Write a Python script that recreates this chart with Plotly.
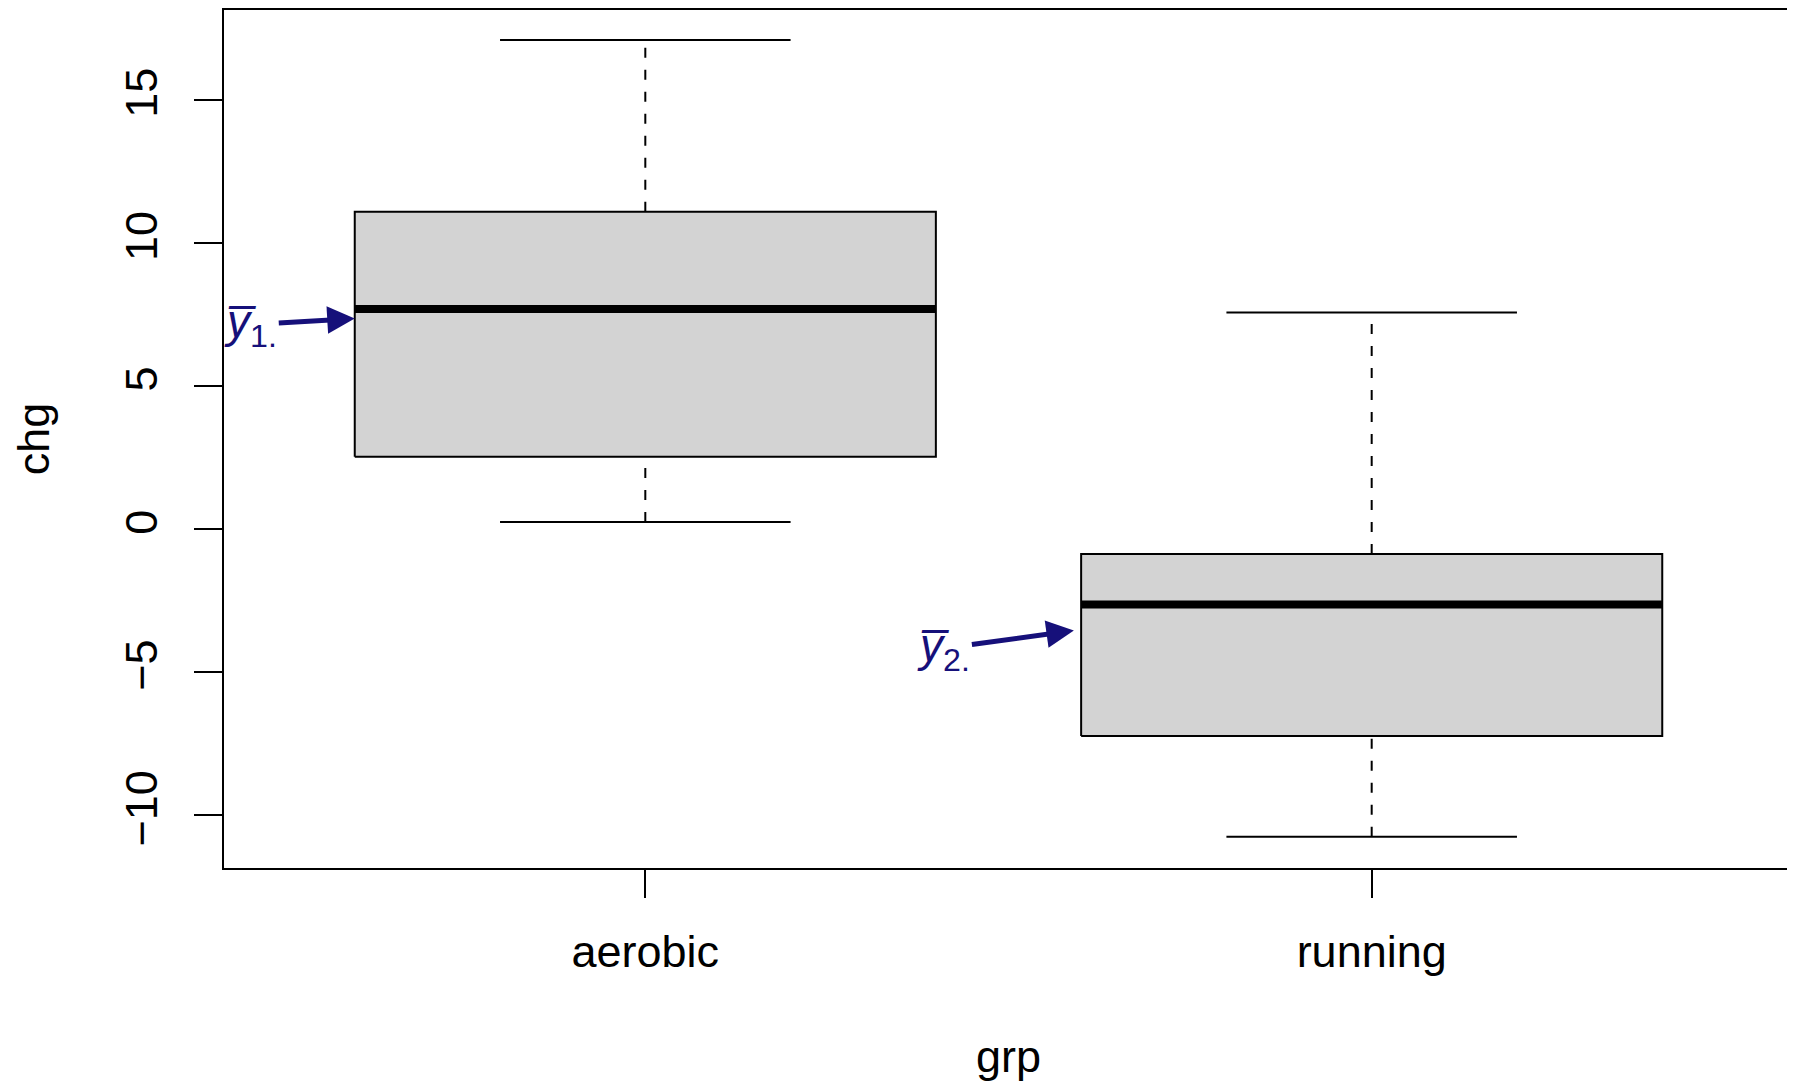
import plotly.graph_objects as go

groups = ["aerobic", "running"]
lower_whisker = [0.24, -10.76]
q1 = [2.52, -7.24]
median = [7.68, -2.64]
q3 = [11.08, -0.88]
upper_whisker = [17.08, 7.56]

y_ticks = [-10, -5, 0, 5, 10, 15]
y_tick_labels = ["\u221210", "\u22125", "0", "5", "10", "15"]

BOX_HALF = 0.4
CAP_HALF = 0.2
FONT = "Liberation Sans, Arial, Helvetica, sans-serif"

fig = go.Figure()
for i, g in enumerate(groups):
    c = i + 1
    # whiskers (dashed)
    for a, b in ((q3[i], upper_whisker[i]), (lower_whisker[i], q1[i])):
        fig.add_trace(go.Scatter(x=[c, c], y=[a, b], mode="lines",
                                 line=dict(color="black", width=2, dash="10px,12px"),
                                 showlegend=False, hoverinfo="skip"))
    # caps
    for v in (upper_whisker[i], lower_whisker[i]):
        fig.add_trace(go.Scatter(x=[c - CAP_HALF, c + CAP_HALF], y=[v, v], mode="lines",
                                 line=dict(color="black", width=2),
                                 showlegend=False, hoverinfo="skip"))
    # box
    fig.add_trace(go.Scatter(
        x=[c - BOX_HALF, c + BOX_HALF, c + BOX_HALF, c - BOX_HALF, c - BOX_HALF],
        y=[q1[i], q1[i], q3[i], q3[i], q1[i]],
        mode="lines", fill="toself", fillcolor="#D3D3D3",
        line=dict(color="black", width=2), name=g, showlegend=False))
    # median
    fig.add_trace(go.Scatter(x=[c - BOX_HALF, c + BOX_HALF], y=[median[i], median[i]],
                             mode="lines", line=dict(color="black", width=8),
                             showlegend=False, hoverinfo="skip"))

NAVY = "#16107a"
fig.add_annotation(x=0.6, y=7.35, xref="x", yref="y", ax=-104, ay=6,
                   text="<i>y\u0305</i><sub>1.</sub>", showarrow=True,
                   arrowhead=2, arrowsize=1.1, arrowwidth=5, arrowcolor=NAVY,
                   font=dict(family=FONT, size=46, color=NAVY), xanchor="center")
fig.add_annotation(x=1.59, y=-3.55, xref="x", yref="y", ax=-130, ay=18,
                   text="<i>y\u0305</i><sub>2.</sub>", showarrow=True,
                   arrowhead=2, arrowsize=1.1, arrowwidth=5, arrowcolor=NAVY,
                   font=dict(family=FONT, size=46, color=NAVY), xanchor="center")

fig.update_layout(
    width=1787, height=1074, autosize=False,
    margin=dict(l=216, r=0, t=0, b=214),
    plot_bgcolor="white", paper_bgcolor="white",
    font=dict(family=FONT, size=45, color="black"),
    showlegend=False,
)
fig.update_xaxes(range=[0.42, 2.58], tickmode="array", tickvals=[1, 2], ticktext=groups,
                 ticks="outside", ticklen=28, tickwidth=2, tickcolor="black",
                 showline=True, mirror=True, linecolor="black", linewidth=2,
                 showgrid=False, zeroline=False, ticklabelstandoff=15,
                 tickfont=dict(size=45),
                 title=dict(text="grp", font=dict(size=45), standoff=69))
fig.update_yaxes(range=[-11.85, 18.13], tickmode="array", tickvals=y_ticks, ticktext=y_tick_labels,
                 ticks="outside", ticklen=28, tickwidth=2, tickcolor="black", tickangle=-90,
                 showline=True, mirror=True, linecolor="black", linewidth=2,
                 showgrid=False, zeroline=False, ticklabelstandoff=19,
                 tickfont=dict(size=45),
                 title=dict(text="chg", font=dict(size=45), standoff=54))

fig.write_html("out.html")
